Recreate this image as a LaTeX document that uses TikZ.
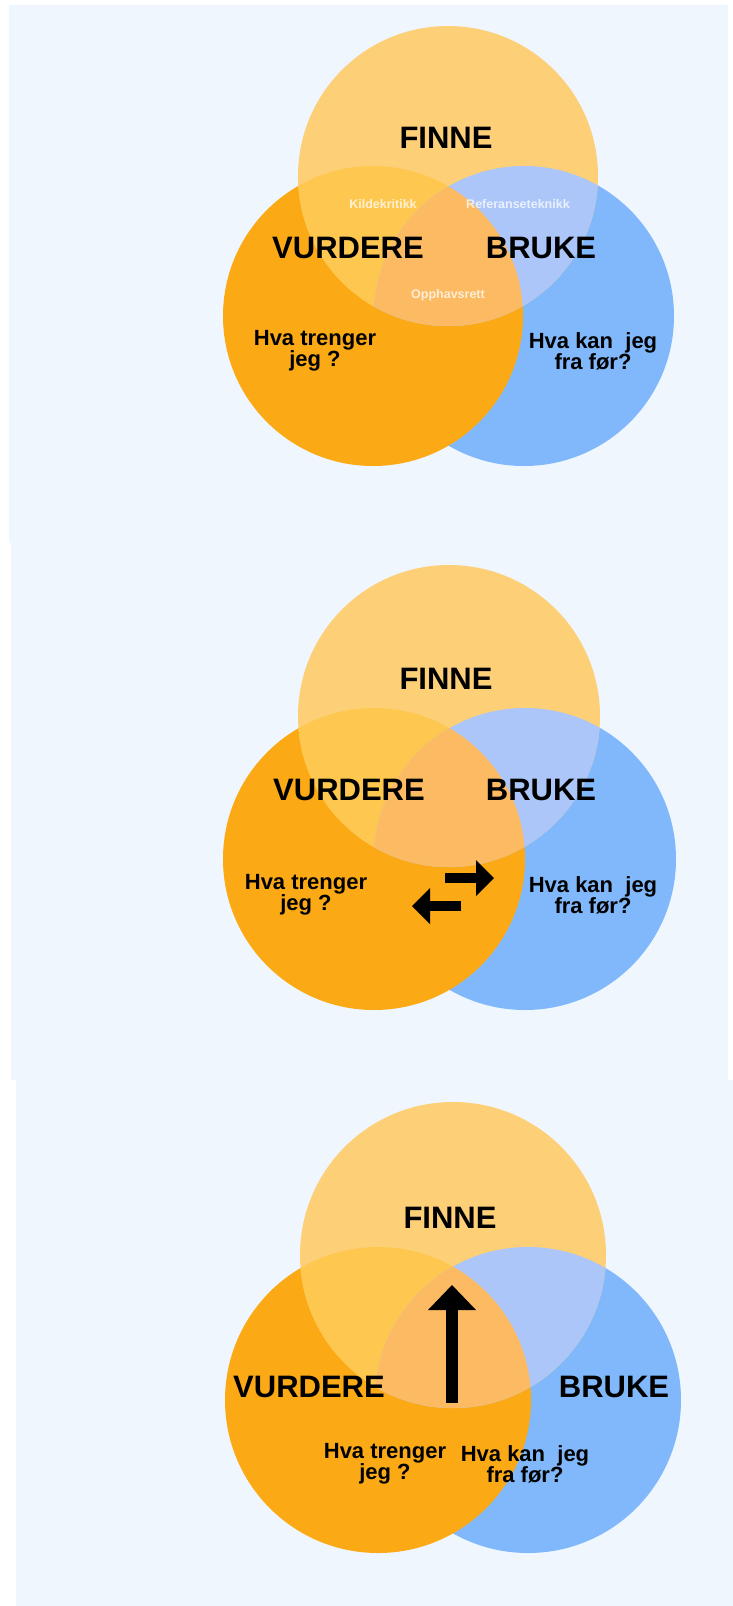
\documentclass[tikz,border=0pt]{standalone}
\usepackage{fontspec}
\setmainfont{Liberation Sans}
\usetikzlibrary{arrows.meta}
\definecolor{panel}{HTML}{EFF6FE}
\definecolor{finnecol}{HTML}{FDD077}
\definecolor{vurderecol}{HTML}{FBAA16}
\definecolor{brukecol}{HTML}{80B8FB}
\definecolor{fvcol}{HTML}{FEC850}
\definecolor{fbcol}{HTML}{ACC6FA}
\definecolor{midcol}{HTML}{FCBA62}
\begin{document}
\begin{tikzpicture}
  [x=1pt,y=-1pt,
   big/.style={font=\bfseries\fontsize{31}{31}\selectfont,inner sep=0pt},
   ask/.style={font=\bfseries\fontsize{22}{21}\selectfont,align=center,inner sep=0pt},
   small/.style={font=\bfseries\fontsize{12.5}{13}\selectfont,text=white,text opacity=0.75,inner sep=0pt},
   swaparrow/.style={line width=10pt,-{Triangle[length=18pt,width=36pt,line width=0pt]}},
   uparrow/.style={line width=12.5pt,-{Triangle[length=25pt,width=48pt,line width=0pt]}}]
  \useasboundingbox (0,0) rectangle (733,1606);
  \fill[white] (0,0) rectangle (733,1606);
  % panels
  \fill[panel] (9,5) rectangle (728,543);
  \fill[panel] (11,543) rectangle (728,1080);
  \fill[panel] (16,1080) rectangle (733,1606);
  % circles: top x, top y, left x, right x, bottom y, radius
  \foreach \xt/\yt/\xl/\xr/\yb/\r in {448/176/373/524/316/150, 449/716/374/525/859/151, 453/1255/378/528/1400/153}{
    \fill[brukecol] (\xr,\yb) circle (\r pt);
    \fill[vurderecol] (\xl,\yb) circle (\r pt);
    \fill[finnecol] (\xt,\yt) circle (\r pt);
    \begin{scope}
      \clip (\xt,\yt) circle (\r pt);
      \fill[fvcol] (\xl,\yb) circle (\r pt);
      \fill[fbcol] (\xr,\yb) circle (\r pt);
      \clip (\xl,\yb) circle (\r pt);
      \fill[midcol] (\xr,\yb) circle (\r pt);
    \end{scope}
  }
  % panel 1
  \node[big,name=finne1] at (446,138) {FINNE};
  \node[big,name=vurdere1] at (348,248) {VURDERE};
  \node[big,name=bruke1] at (541,248) {BRUKE};
  \node[small,name=kilde1] at (383,204) {Kildekritikk};
  \node[small,name=ref1] at (518,204) {Referanseteknikk};
  \node[small,name=opphav1] at (448,295) {Opphavsrett};
  \node[ask,name=trenger1] at (315,351) {Hva trenger\\jeg ?};
  \node[ask,name=kan1] at (593,351) {Hva kan\ \ jeg\\fra før?};
  % panel 2
  \node[big,name=finne2] at (446,679) {FINNE};
  \node[big,name=vurdere2] at (349,790) {VURDERE};
  \node[big,name=bruke2] at (541,790) {BRUKE};
  \node[ask,name=trenger2] at (306,895) {Hva trenger\\jeg ?};
  \node[ask,name=kan2] at (593,895) {Hva kan\ \ jeg\\fra før?};
  \coordinate (r1) at (445,878);
  \coordinate (r2) at (494,878);
  \coordinate (l1) at (461,906);
  \coordinate (l2) at (412,906);
  \draw[swaparrow] (r1) -- (r2);
  \draw[swaparrow] (l1) -- (l2);
  % panel 3
  \node[big,name=finne3] at (450,1218) {FINNE};
  \node[big,name=vurdere3] at (309,1387) {VURDERE};
  \node[big,name=bruke3] at (614,1387) {BRUKE};
  \node[ask,name=trenger3] at (385,1464) {Hva trenger\\jeg ?};
  \node[ask,name=kan3] at (525,1464) {Hva kan\ \ jeg\\fra før?};
  \coordinate (u1) at (452,1403);
  \coordinate (u2) at (452,1285);
  \draw[uparrow] (u1) -- (u2);
\end{tikzpicture}
\end{document}
